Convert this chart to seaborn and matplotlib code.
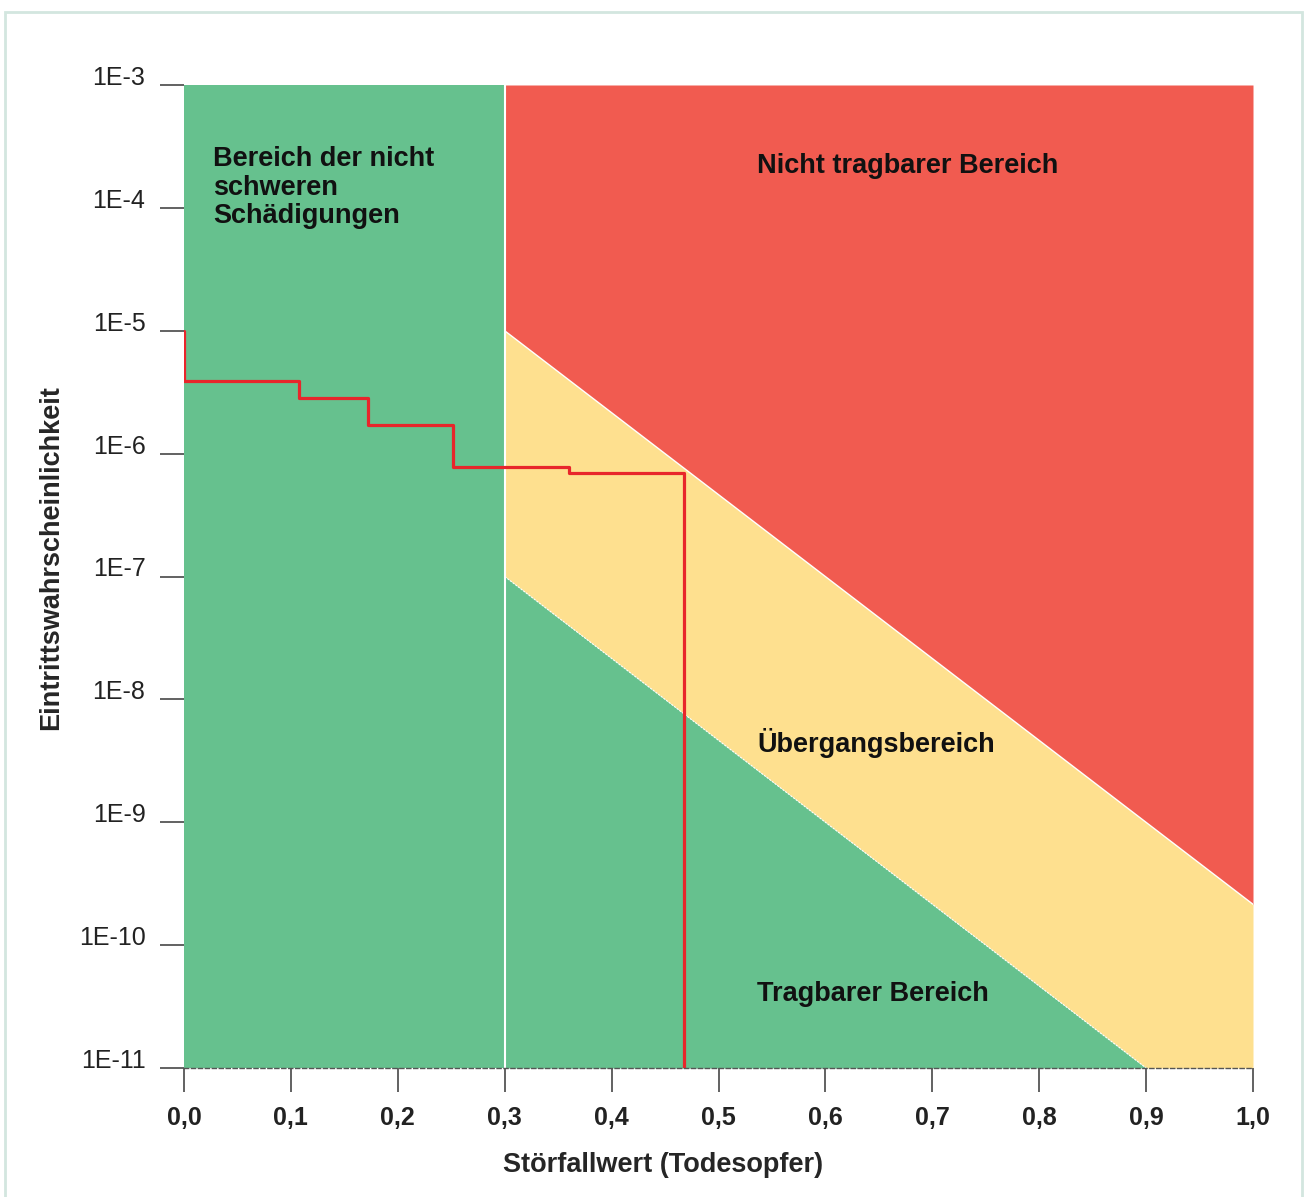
import numpy as np
import matplotlib
matplotlib.use("Agg")
import matplotlib.pyplot as plt
import seaborn as sns
from matplotlib.patches import Rectangle

# data
step_x = [0.0, 0.0, 0.108, 0.172, 0.252, 0.360, 0.468]
step_y = [1e-5, 3.9e-6, 2.84e-6, 1.71e-6, 7.8e-7, 6.95e-7, 1e-11]

upper_x = [0.3, 1.0]            # Nicht tragbar / Übergang boundary
upper_y = [1e-5, 2.15e-10]
lower_x = [0.3, 0.9, 1.0]        # Übergang / Tragbar boundary
lower_y = [1e-7, 1e-11, 1e-11]

x_ticks = [0.0, 0.1, 0.2, 0.3, 0.4, 0.5, 0.6, 0.7, 0.8, 0.9, 1.0]
x_labels = ["0,0", "0,1", "0,2", "0,3", "0,4", "0,5", "0,6", "0,7", "0,8", "0,9", "1,0"]
y_ticks = [1e-3, 1e-4, 1e-5, 1e-6, 1e-7, 1e-8, 1e-9, 1e-10, 1e-11]
y_labels = ["1E-3", "1E-4", "1E-5", "1E-6", "1E-7", "1E-8", "1E-9", "1E-10", "1E-11"]

GREEN = "#66c18e"
RED = "#f15b50"
YELLOW = "#fee08f"
LINE = "#e8262b"

sns.set_style("white")
plt.rcParams["font.family"] = ["Liberation Sans", "DejaVu Sans"]

fig = plt.figure(figsize=(13.06, 11.97), dpi=100)
ax = fig.add_axes([184 / 1306, 1 - 1068 / 1197, (1253 - 184) / 1306, (1068 - 85) / 1197])
ax.set_yscale("log")
ax.set_xlim(0, 1)
ax.set_ylim(1e-11, 1e-3)

# regions
ax.axvspan(0, 0.3, color=GREEN, lw=0, zorder=0)
xs = np.linspace(0.3, 1.0, 200)
up = np.interp(xs, upper_x, np.log10(upper_y))
lo = np.interp(xs, lower_x, np.log10(lower_y))
ax.fill_between(xs, 10 ** up, 1e-3, color=RED, lw=0, zorder=0)
ax.fill_between(xs, 10 ** lo, 10 ** up, color=YELLOW, lw=0, zorder=0)
ax.fill_between(xs, 1e-11, 10 ** lo, color=GREEN, lw=0, zorder=0)
ax.plot(upper_x, upper_y, color="white", lw=1.0, zorder=1)
ax.plot(lower_x[:2], lower_y[:2], color="white", lw=0.8, ls=(0, (2, 1)), zorder=1)
ax.axvline(0.3, color="white", lw=1.5, zorder=1)

# step line
sns.lineplot(x=step_x, y=step_y, ax=ax, estimator=None, sort=False,
             drawstyle="steps-post", color=LINE, lw=2.3, zorder=3)

# texts
tkw = dict(fontsize=19.5, fontweight="bold", color="#111111", transform=ax.transData)
ax.text(0.027, 3.16e-4, "Bereich der nicht\nschweren\nSchädigungen", va="top",
        linespacing=1.12, **tkw)
ax.text(0.536, 2.2e-4, "Nicht tragbarer Bereich", va="center", **tkw)
ax.text(0.536, 4.4e-9, "Übergangsbereich", va="center", **tkw)
ax.text(0.536, 4.0e-11, "Tragbarer Bereich", va="center", **tkw)

# axes styling
for s in ["left", "top", "right"]:
    ax.spines[s].set_visible(False)
ax.spines["bottom"].set_linestyle((0, (3, 2)))
ax.spines["bottom"].set_color("#555555")
ax.spines["bottom"].set_linewidth(1.0)
ax.spines["bottom"].set_zorder(4)

ax.set_xticks(x_ticks)
ax.set_xticklabels(x_labels, fontsize=18, fontweight="bold", color="#222222")
ax.set_yticks(y_ticks)
ax.set_yticklabels(y_labels, fontsize=18, color="#222222")
ax.minorticks_off()
ax.tick_params(axis="x", direction="out", length=17.3, width=1.3, color="#555555", pad=10, bottom=True)
ax.tick_params(axis="y", direction="out", length=17.3, width=1.3, color="#555555", pad=10.5, left=True)
for lab in ax.get_yticklabels():
    lab.set_verticalalignment("baseline")

ax.set_xlabel("Störfallwert (Todesopfer)", fontsize=19.5, fontweight="bold", labelpad=19)
ax.xaxis.set_label_coords(0.448, -0.085)
ax.set_ylabel("Eintrittswahrscheinlichkeit", fontsize=19.5, fontweight="bold")
ax.yaxis.set_label_coords(-0.112, 0.519)

# light frame around the figure
fig.patches.append(Rectangle((5 / 1306, -0.01), 1297 / 1306, 1 - 12 / 1197 + 0.01,
                             transform=fig.transFigure, fill=False,
                             edgecolor="#d3e6df", lw=2))

fig.savefig("out.png", dpi=100)
